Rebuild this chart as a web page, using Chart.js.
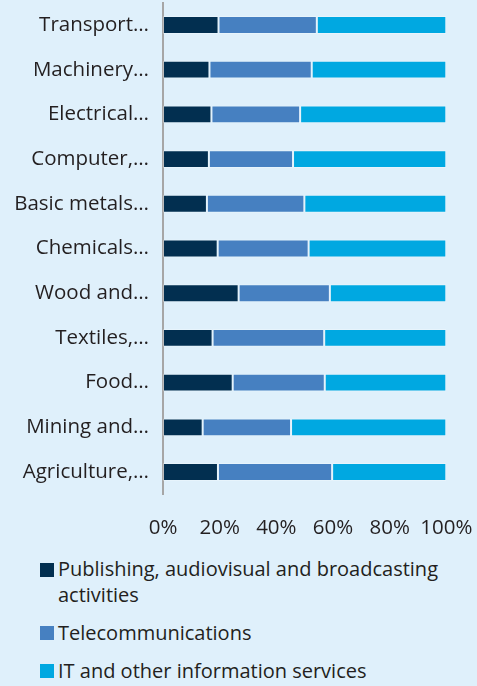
<!DOCTYPE html>
<html>
<head>
<meta charset="utf-8">
<script src="https://cdn.jsdelivr.net/npm/chart.js@4"></script>
<style>
  html, body { margin: 0; padding: 0; background: #dff0fb; }
  body { width: 477px; height: 686px; overflow: hidden; font-family: 'Open Sans', sans-serif; color: #231f20; }
  #wrap { position: relative; width: 477px; height: 545px; }
  #legend { list-style: none; margin: 0; padding: 0; position: absolute; left: 40px; top: 556px; width: 430px; }
  #legend li { position: relative; padding-left: 18px; font-size: 20px; line-height: 25.5px; margin-bottom: 12.7px; }
  #legend li span { position: absolute; left: 0; top: 6.5px; width: 14px; height: 14px; }
</style>
</head>
<body>
<div id="wrap"><canvas id="myChart"></canvas></div>
<ul id="legend"></ul>
<script>
const sectors = ['Transport…', 'Machinery…', 'Electrical…', 'Computer,…', 'Basic metals…',
  'Chemicals…', 'Wood and…', 'Textiles,…', 'Food…', 'Mining and…', 'Agriculture,…'];

const publishing = [19.6, 16.4, 17.1, 16.2, 15.5, 19.3, 26.7, 17.5, 24.6, 14.0, 19.4];
const telecom    = [34.7, 36.1, 31.3, 29.7, 34.4, 32.1, 32.2, 39.4, 32.5, 31.2, 40.3];
const itServices = [45.7, 47.5, 51.6, 54.1, 50.1, 48.6, 41.1, 43.1, 42.9, 54.8, 40.3];

const seriesNames = ['Publishing, audiovisual and broadcasting activities',
  'Telecommunications', 'IT and other information services'];
const seriesColors = ['#022f50', '#4680c1', '#00a8e1'];

const xTicks = [0, 20, 40, 60, 80, 100];

var ctx = document.getElementById('myChart').getContext('2d');

var myChart = new Chart(ctx, {
    type: 'bar',
    data: {
        labels: sectors,
        datasets: [publishing, telecom, itServices].map(function (vals, i) {
            return {
                label: seriesNames[i],
                data: vals,
                backgroundColor: seriesColors[i],
                borderColor: 'rgba(255,255,255,0.25)',
                borderWidth: 1,
                borderSkipped: false,
                barPercentage: 0.5,
                categoryPercentage: 0.8
            };
        })
    },
    options: {
        indexAxis: 'y',
        responsive: true,
        maintainAspectRatio: false,
        animation: false,
        layout: { padding: { top: 2.6, right: 30.7, bottom: 0, left: 0 } },
        plugins: {
            legend: { display: false },
            tooltip: { enabled: false }
        },
        scales: {
            x: {
                stacked: true,
                min: 0,
                max: 100,
                afterBuildTicks: function (axis) {
                    axis.ticks = xTicks.map(function (v) { return { value: v }; });
                },
                afterFit: function (axis) {
                    axis.height = 50.6;
                    axis.paddingLeft = 0;
                    axis.paddingRight = 0;
                },
                grid: { display: false },
                border: { display: false },
                ticks: {
                    padding: 13,
                    maxRotation: 0,
                    color: '#231f20',
                    font: { family: 'Open Sans', size: 20.5 },
                    callback: function (v) { return v + '%'; }
                }
            },
            y: {
                stacked: true,
                afterFit: function (axis) {
                    axis.width = 163;
                    axis.paddingTop = 0;
                    axis.paddingBottom = 0;
                },
                grid: { display: false },
                border: { display: true, color: '#a6a6a6', width: 2 },
                ticks: {
                    padding: 6,
                    color: '#231f20',
                    font: { family: 'Open Sans', size: 20.5 }
                }
            }
        }
    }
});

// legend below the chart, so the long name can wrap
var legend = document.getElementById('legend');
seriesNames.forEach(function (name, i) {
    var li = document.createElement('li');
    var sw = document.createElement('span');
    sw.style.background = seriesColors[i];
    li.appendChild(sw);
    li.appendChild(document.createTextNode(name));
    legend.appendChild(li);
});
</script>
</body>
</html>
